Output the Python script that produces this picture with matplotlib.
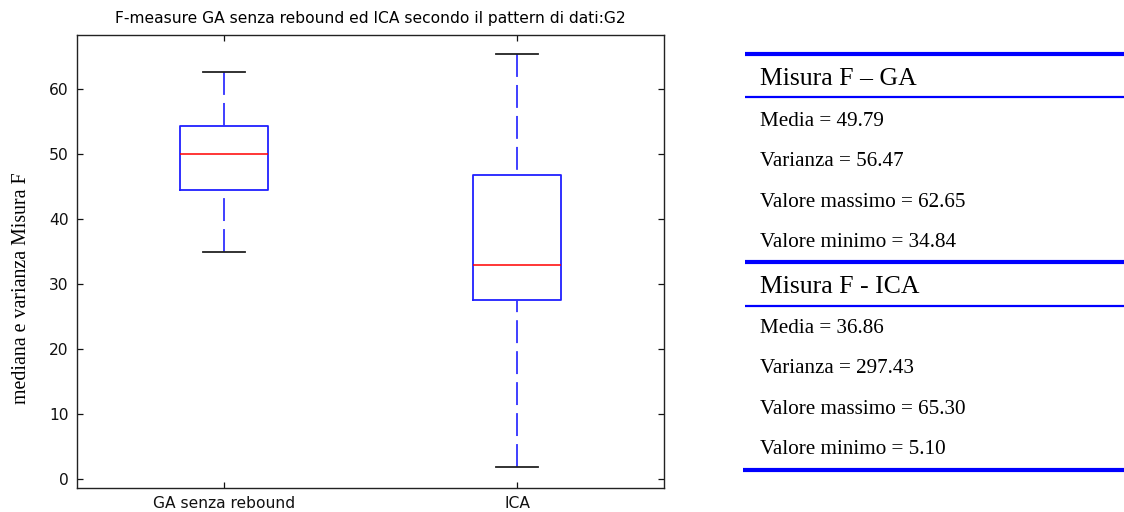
import matplotlib
matplotlib.use("Agg")
import matplotlib.pyplot as plt
from matplotlib.lines import Line2D

# ---- data ----
groups = ["GA senza rebound", "ICA"]
whislo = [34.9, 1.9]
q1 = [44.5, 27.6]
med = [50.0, 32.9]
q3 = [54.25, 46.75]
whishi = [62.6, 65.3]

title = "F-measure GA senza rebound ed ICA secondo il pattern di dati:G2"
ylabel = "mediana e varianza Misura F"
yticks = [0, 10, 20, 30, 40, 50, 60]

ga_header = "Misura F \u2013 GA"
ga_rows = ["Media = 49.79", "Varianza = 56.47", "Valore massimo = 62.65", "Valore minimo = 34.84"]
ica_header = "Misura F - ICA"
ica_rows = ["Media = 36.86", "Varianza = 297.43", "Valore massimo = 65.30", "Valore minimo = 5.10"]

W, H = 1124, 512
fig = plt.figure(figsize=(W / 100, H / 100), dpi=100)
ax = fig.add_axes([77 / W, 1 - 488 / H, (664 - 77) / W, (488 - 35) / H])

stats = []
for i, g in enumerate(groups):
    stats.append(dict(label=g, whislo=whislo[i], q1=q1[i], med=med[i], q3=q3[i], whishi=whishi[i], fliers=[]))

lw = 1.3
res = ax.bxp(stats, positions=[1, 2], widths=0.30, capwidths=0.144, showfliers=False,
             boxprops=dict(color="#2020ff", linewidth=lw),
             medianprops=dict(color="#ff0000", linewidth=1.1),
             whiskerprops=dict(color="#3030ff", linewidth=lw, linestyle=(0, (16.5 / lw, 5.8 / lw))),
             capprops=dict(color="#222222", linewidth=lw))
# MATLAB draws whiskers starting from the cap
for w in res["whiskers"]:
    w.set_ydata(list(w.get_ydata())[::-1])

ax.set_xlim(0.5, 2.5)
ax.set_ylim(-1.4, 68.3)
ax.set_yticks(yticks)
ax.set_xticks([1, 2])
ax.set_xticklabels(groups)
ax.tick_params(direction="in", length=4.3, width=0.9, top=True, right=True,
               labelsize=11.2, colors="#111111")
ax.tick_params(axis="y", pad=6)
ax.tick_params(axis="x", pad=6)
for s in ax.spines.values():
    s.set_linewidth(1.0)
    s.set_color("#222222")
for lab in ax.get_xticklabels() + ax.get_yticklabels():
    lab.set_family("DejaVu Sans")

ax.set_title(title, fontsize=11.2, family="DejaVu Sans", pad=9)
fig.text(22 / W, 1 - 288 / H, ylabel, rotation=90, ha="center", va="center",
         family="Liberation Serif", fontsize=14.3)

# ---- statistics table on the right ----
def hline(y, lw, x0=745):
    fig.add_artist(Line2D([x0 / W, 1.0], [1 - y / H, 1 - y / H], color="#0000ff",
                          linewidth=lw, transform=fig.transFigure, solid_capstyle="butt"))

hline(53.5, 3.0)
hline(97.0, 1.6)
hline(261.5, 3.0)
hline(305.5, 1.6)
hline(469.5, 3.0, 743)

tx = 760 / W
fig.text(tx, 1 - 85 / H, ga_header, family="Liberation Serif", fontsize=18.5, va="baseline")
for k, r in enumerate(ga_rows):
    fig.text(tx, 1 - (126 + 40.3 * k) / H, r, family="Liberation Serif", fontsize=15.2, va="baseline")
fig.text(tx, 1 - 293 / H, ica_header, family="Liberation Serif", fontsize=18.5, va="baseline")
for k, r in enumerate(ica_rows):
    fig.text(tx, 1 - (333 + 40.3 * k) / H, r, family="Liberation Serif", fontsize=15.2, va="baseline")

fig.savefig("out.png", dpi=100)
